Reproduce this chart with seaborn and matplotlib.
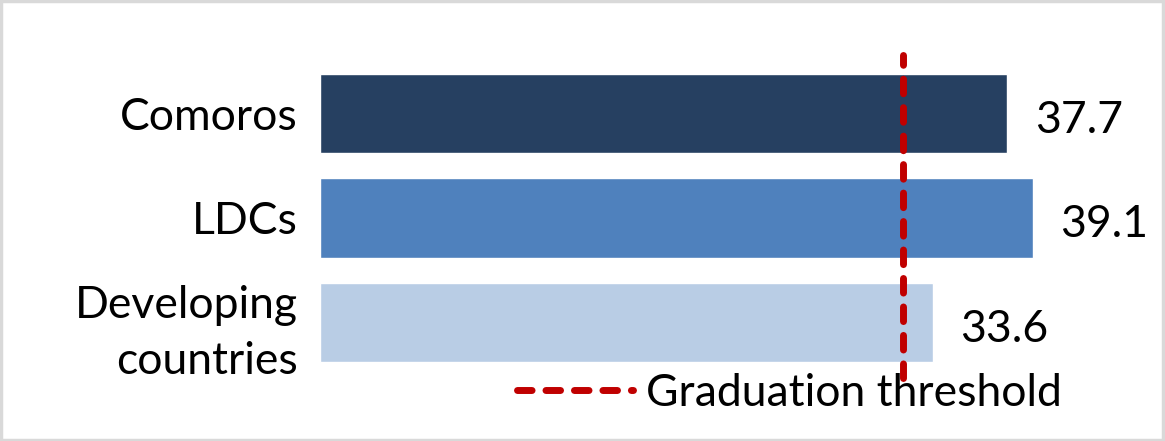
from matplotlib import pyplot as plt
from matplotlib.lines import Line2D
from matplotlib.patches import Rectangle
import seaborn as sns
import pandas

# Data
groups = ["Comoros", "LDCs", "Developing\ncountries"]
values = [37.7, 39.1, 33.6]
bar_colors = ["#264061", "#4F81BD", "#B9CDE5"]
threshold = 32.0
threshold_label = "Graduation threshold"

dataframe = pandas.DataFrame({"group": groups, "value": values})

sns.set_style("white")
plt.rcParams['font.family'] = ['Lato', 'DejaVu Sans']
plt.rcParams['text.color'] = 'black'
plt.rcParams['ytick.color'] = 'black'

fig = plt.figure(figsize=(11.65, 4.41), dpi=100)
ax = fig.add_axes([320 / 1165, 1 - 374.5 / 441, 780 / 1165, 313 / 441])

g = sns.barplot(data=dataframe, y="group", x="value", hue="group", palette=bar_colors,
                orient="h", width=0.76, legend=False, ax=ax, saturation=1)

dash = (0, (2.1, 2.0))
ax.set_xlim(0, 780 / 18.23)
ax.set_ylim(2.5, -0.5)
ax.axvline(threshold, ymin=-0.01, ymax=1.02, color="#C00000", linewidth=5,
           linestyle=dash, dash_capstyle="round", clip_on=False)

# value labels
for i, v in enumerate(values):
    ax.annotate(f"{v:.1f}", xy=(v, i), xytext=(20, -5), textcoords="offset points",
                ha="left", va="center", fontsize=32, color="black")

ax.set_xlabel("")
ax.set_ylabel("")
ax.set_xticks([])
ax.tick_params(axis="y", length=0, pad=16, labelsize=32, labelcolor="black")
for lbl in ax.get_yticklabels():
    lbl.set_multialignment("right")
    lbl.set_linespacing(1.45)
sns.despine(ax=ax, left=True, bottom=True, top=True, right=True)

# legend
handle = Line2D([0], [0], color="#C00000", linewidth=5, linestyle=dash,
                dash_capstyle="round")
fig.legend([handle], [threshold_label], loc="center left",
           bbox_to_anchor=(517 / 1165, 1 - 393 / 441), frameon=False,
           fontsize=32, handlelength=2.6, handletextpad=0.3, borderpad=0, borderaxespad=0)

# outer border
fig.patches.append(Rectangle((0.001, 0.002), 0.997, 0.995, transform=fig.transFigure,
                             fill=False, edgecolor="#D9D9D9", linewidth=2.5))

fig.savefig("out.png", dpi=100)
